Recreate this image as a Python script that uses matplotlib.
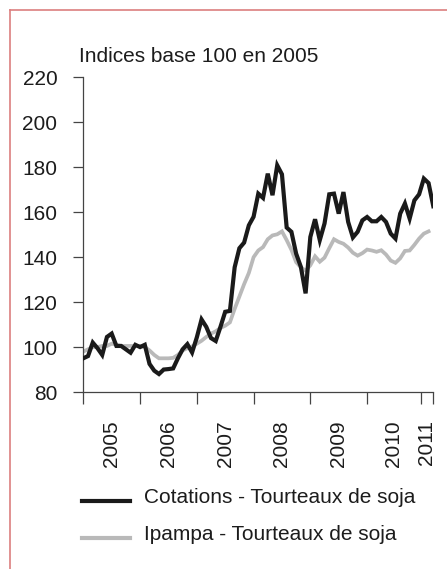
import numpy as np
import matplotlib
matplotlib.use("Agg")
import matplotlib.pyplot as plt
from matplotlib.lines import Line2D

# Indices base 100 en 2005, mensuels de janvier 2005 a mars 2011
cotations = [95, 96, 102, 99.5, 96.5, 104.5, 106, 100.5, 100.5, 99, 97.5, 101,
             100, 101, 92.5, 89.5, 88, 90, 90.2, 90.5, 95, 99, 101.3, 97.6,
             104.3, 112.3, 109, 104, 102.7, 109, 115.7, 116.1, 135.5, 144, 146.5, 154.2,
             158, 168.3, 166.4, 177.2, 167.6, 180.9, 176.9, 153.2, 151.3, 141.6, 135.7, 123.9,
             149, 156.9, 147.6, 155, 168, 168.3, 159.4, 169, 155.7, 148.8, 151.3, 156.4,
             157.9, 156, 156, 157.9, 155.7, 150.5, 148.3, 159.4, 163.9, 157.2, 165.3, 168,
             175, 173, 162.7]
ipampa = [98, 99, 100, 100, 100.5, 100.5, 101.5, 101, 100.5, 100.5, 100.5, 100.5,
          100.5, 100, 98.5, 96.5, 95, 95, 95, 95.2, 96.5, 98.5, 99.5, 100.3,
          101.5, 102.8, 104.5, 106, 107, 108.5, 109.5, 111, 117, 122.5, 128, 133,
          140, 143, 144.5, 148, 149.7, 150.2, 151.5, 147.6, 143.3, 137.8, 135.5, 134,
          136.4, 140.4, 138, 139.8, 144, 148, 146.8, 146, 144.3, 142, 140.7, 141.8,
          143.4, 143, 142.4, 143.1, 141.2, 138.5, 137.5, 139.5, 142.8, 143, 145.5, 148.3,
          150.5, 151.5]
years = ["2005", "2006", "2007", "2008", "2009", "2010", "2011"]
year_bounds = [0, 12, 24, 36, 48, 60, 71.3, 74]
yticks = [80, 100, 120, 140, 160, 180, 200, 220]

labels = ["Cotations - Tourteaux de soja", "Ipampa - Tourteaux de soja"]
colors = ["#1a1a1a", "#b9b9b9"]

W, H = 447, 569
plt.rcParams['font.family'] = ['Liberation Sans', 'DejaVu Sans']
text_col = "#1c1c1c"
axis_col = "#444444"


def fx(px):
    return px / W


def fy(py):
    return 1 - py / H


fig = plt.figure(figsize=(W / 100, H / 100), dpi=100)
ax = fig.add_axes([fx(83.3), fy(392), fx(433.3) - fx(83.3), fy(77.5) - fy(392)])

ax.plot(np.arange(len(ipampa)), ipampa, color=colors[1], lw=2.7,
        solid_joinstyle='miter', zorder=2)
ax.plot(np.arange(len(cotations)), cotations, color=colors[0], lw=3.0,
        solid_joinstyle='miter', zorder=3)

ax.set_xlim(0, 74)
ax.set_ylim(80, 220)
ax.set_yticks(yticks)
ax.set_yticklabels([str(v) for v in yticks])

# ticks aux changements d'annee, etiquettes au milieu
ax.set_xticks(year_bounds)
ax.set_xticklabels([])
mids = [(a + b) / 2 for a, b in zip(year_bounds[:-1], year_bounds[1:])]
ax.set_xticks(mids, minor=True)
ax.set_xticklabels(years, minor=True, rotation=90)

for side in ["top", "right"]:
    ax.spines[side].set_visible(False)
for side in ["left", "bottom"]:
    ax.spines[side].set_color(axis_col)
    ax.spines[side].set_linewidth(0.9)

ax.tick_params(axis='y', direction='out', length=7.2, width=0.9, color=axis_col,
               labelsize=15, labelcolor=text_col, pad=11.5)
ax.tick_params(axis='x', which='major', direction='out', length=8.4, width=0.9,
               color=axis_col)
ax.tick_params(axis='x', which='minor', length=0, labelsize=15,
               labelcolor=text_col, pad=20.5)

fig.text(fx(79), fy(62.3), "Indices base 100 en 2005", fontsize=15,
         color=text_col, va='baseline', ha='left')

# legende
leg_y = [500.7, 538.3]
txt_y = [502.7, 539.5]
for lab, col, ly, ty in zip(labels, colors, leg_y, txt_y):
    fig.add_artist(Line2D([fx(81.7), fx(130)], [fy(ly), fy(ly)], color=col, lw=3.0))
    fig.text(fx(144), fy(ty), lab, fontsize=15, color=text_col,
             va='baseline', ha='left')

# cadre
frame_col = "#dc7f7f"
fig.add_artist(Line2D([fx(9.5), fx(9.5)], [fy(10.3), 0], color=frame_col, lw=1.2))
fig.add_artist(Line2D([fx(9.5), 1], [fy(10.3), fy(10.3)], color=frame_col, lw=1.2))

fig.savefig("out.png", dpi=100)
